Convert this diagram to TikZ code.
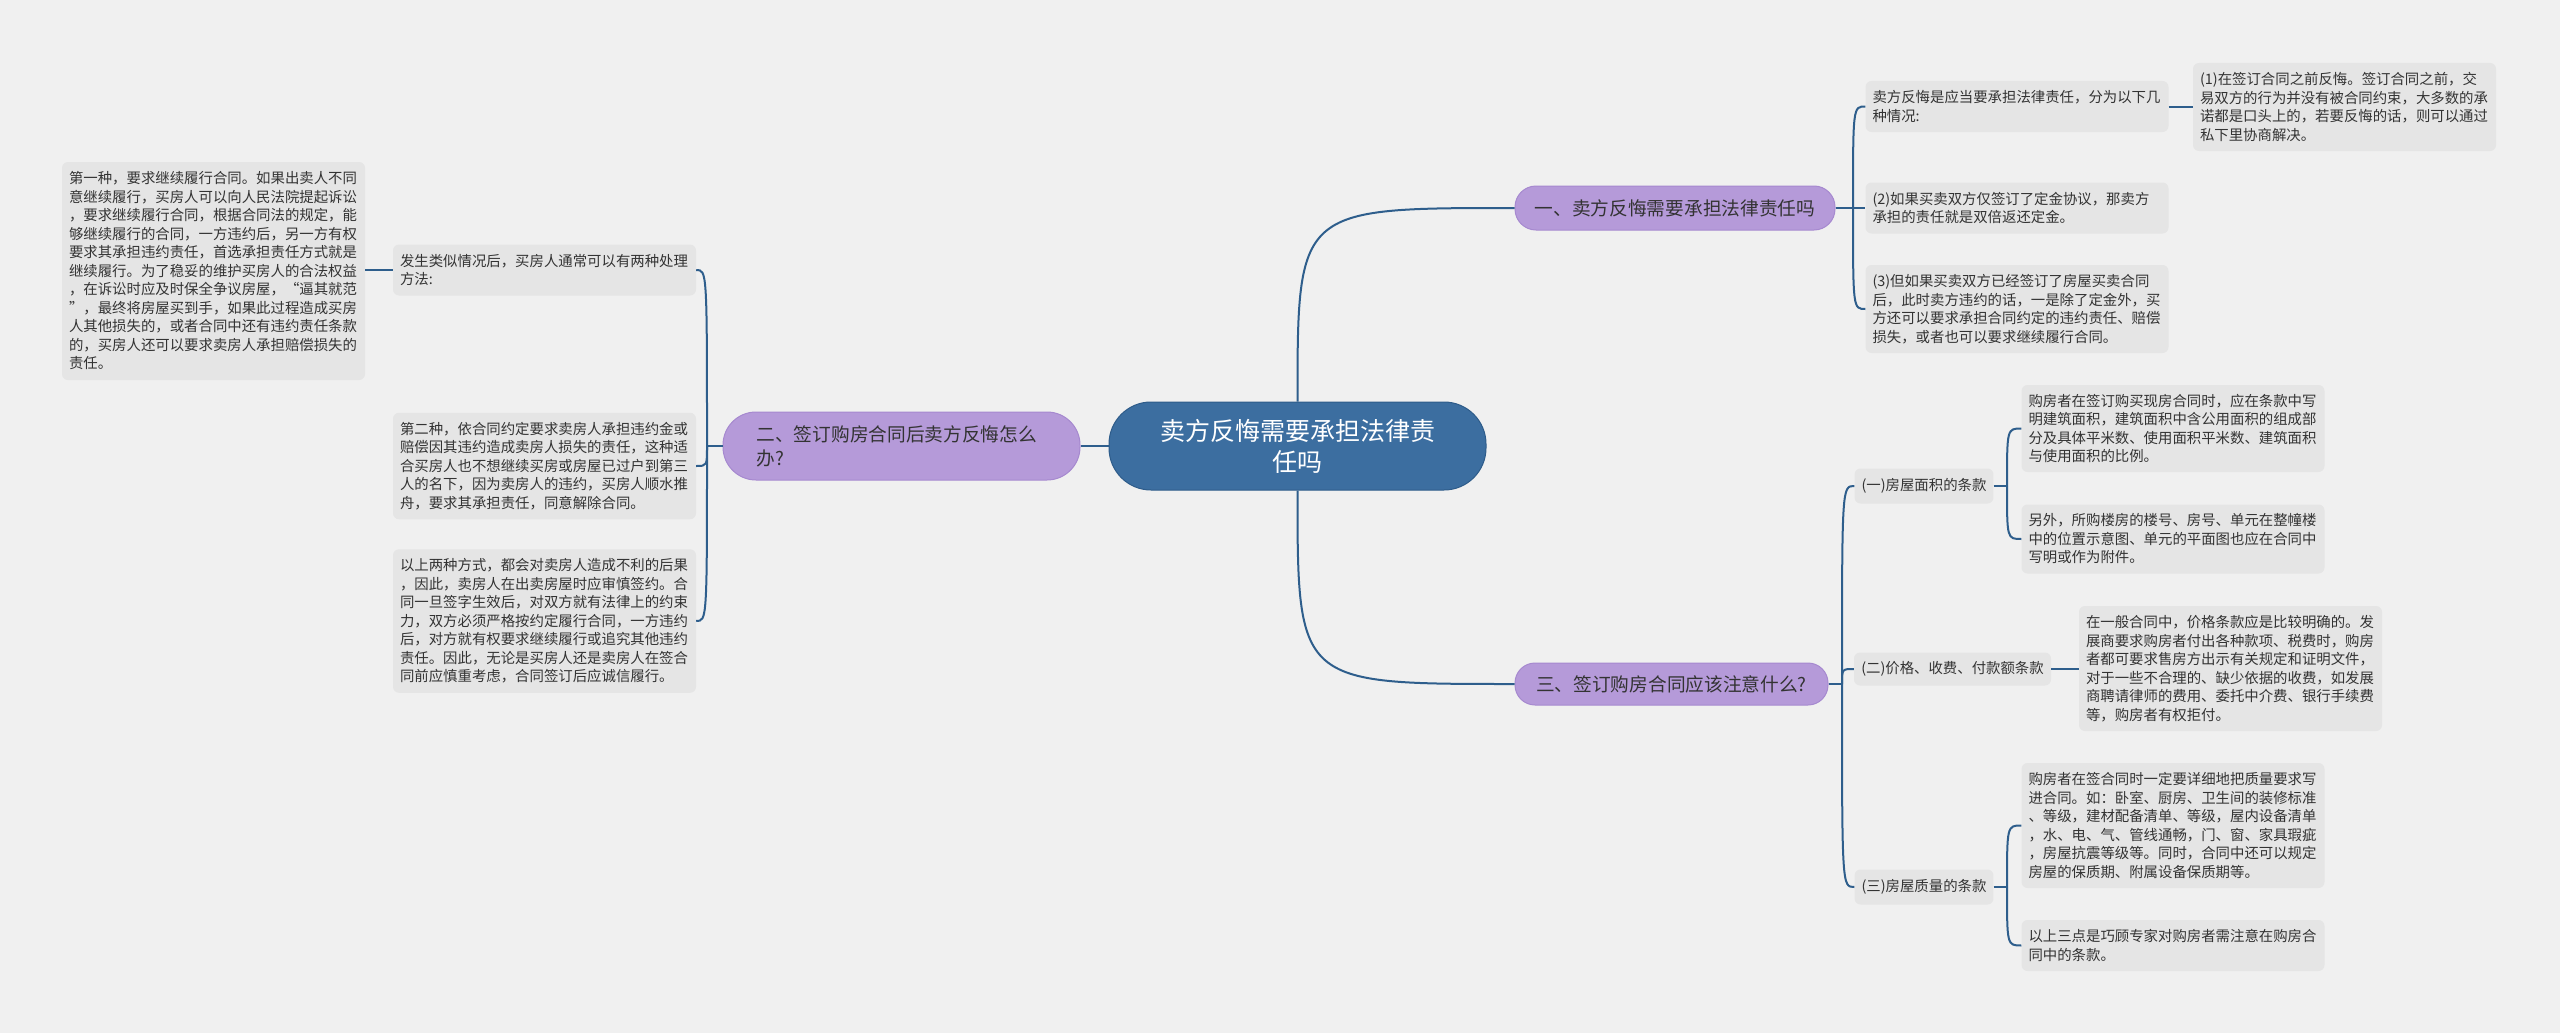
\documentclass[tikz,border=0pt]{standalone}
\usepackage{fontspec}
\setmainfont{Noto Sans CJK SC}
\definecolor{bgcol}{HTML}{F0F0F0}
\definecolor{leafgray}{HTML}{E5E5E5}
\definecolor{txtgray}{HTML}{333333}
\definecolor{purplefill}{HTML}{B59AD9}
\definecolor{purpleline}{HTML}{A689CF}
\definecolor{centerfill}{HTML}{3C6EA0}
\definecolor{centerline}{HTML}{2E5C8A}
\definecolor{linecol}{HTML}{2E5E8C}
\tikzset{
  leaf/.style={rectangle, rounded corners=6pt, fill=leafgray, text=txtgray,
    font=\fontsize{14.4}{18.5}\selectfont, align=left, inner xsep=7pt, inner ysep=0pt},
  wide/.style={text width=289pt},
  lvone/.style={rectangle, fill=purplefill, draw=purpleline, line width=1pt, text=txtgray,
    font=\fontsize{18.7}{24}\selectfont, inner ysep=0pt},
  conn/.style={draw=linecol, line width=2pt},
}
\begin{document}
\begin{tikzpicture}[x=1pt,y=-1pt]
\useasboundingbox (0,0) rectangle (2560,1033);
\fill[bgcol] (0,0) rectangle (2560,1033);

% center
\node[rectangle, rounded corners=42pt, fill=centerfill, draw=centerline, line width=1pt,
  text=white, font=\fontsize{25}{31}\selectfont, align=center,
  minimum width=377pt, minimum height=88pt, inner ysep=0pt] (c) at (1297.5,446)
  {卖方反悔需要承担法律责\\任吗};

% level one
\node[lvone, rounded corners=21pt, minimum width=320pt, minimum height=44pt] (A) at (1675,208)
  {一、卖方反悔需要承担法律责任吗};
\node[lvone, rounded corners=33pt, minimum width=357pt, minimum height=68pt, align=left, text width=290pt] (B) at (901.5,446)
  {二、签订购房合同后卖方反悔怎么\\办?};
\node[lvone, rounded corners=20pt, minimum width=313pt, minimum height=42pt] (C) at (1671.5,684)
  {三、签订购房合同应该注意什么?};

% A children
\node[leaf, wide, minimum height=51pt] (A1) at (2017,106.5)
  {卖方反悔是应当要承担法律责任，分为以下几\\种情况:};
\node[leaf, wide, minimum height=88pt] (A1a) at (2344.5,107)
  {(1)在签订合同之前反悔。签订合同之前，交\\易双方的行为并没有被合同约束，大多数的承\\诺都是口头上的，若要反悔的话，则可以通过\\私下里协商解决。};
\node[leaf, wide, minimum height=51pt] (A2) at (2017,208)
  {(2)如果买卖双方仅签订了定金协议，那卖方\\承担的责任就是双倍返还定金。};
\node[leaf, wide, minimum height=88pt] (A3) at (2017,309)
  {(3)但如果买卖双方已经签订了房屋买卖合同\\后，此时卖方违约的话，一是除了定金外，买\\方还可以要求承担合同约定的违约责任、赔偿\\损失，或者也可以要求继续履行合同。};

% B children
\node[leaf, wide, minimum height=51pt] (B1) at (544.5,270)
  {发生类似情况后，买房人通常可以有两种处理\\方法:};
\node[leaf, wide, minimum height=218pt] (B1a) at (213.5,271)
  {第一种，要求继续履行合同。如果出卖人不同\\意继续履行，买房人可以向人民法院提起诉讼\\，要求继续履行合同，根据合同法的规定，能\\够继续履行的合同，一方违约后，另一方有权\\要求其承担违约责任，首选承担责任方式就是\\继续履行。为了稳妥的维护买房人的合法权益\\，在诉讼时应及时保全争议房屋，“逼其就范\\”，最终将房屋买到手，如果此过程造成买房\\人其他损失的，或者合同中还有违约责任条款\\的，买房人还可以要求卖房人承担赔偿损失的\\责任。};
\node[leaf, wide, minimum height=106.5pt] (B2) at (544.5,466)
  {第二种，依合同约定要求卖房人承担违约金或\\赔偿因其违约造成卖房人损失的责任，这种适\\合买房人也不想继续买房或房屋已过户到第三\\人的名下，因为卖房人的违约，买房人顺水推\\舟，要求其承担责任，同意解除合同。};
\node[leaf, wide, minimum height=143.5pt] (B3) at (544.5,621)
  {以上两种方式，都会对卖房人造成不利的后果\\，因此，卖房人在出卖房屋时应审慎签约。合\\同一旦签字生效后，对双方就有法律上的约束\\力，双方必须严格按约定履行合同，一方违约\\后，对方就有权要求继续履行或追究其他违约\\责任。因此，无论是买房人还是卖房人在签合\\同前应慎重考虑，合同签订后应诚信履行。};

% C children
\node[leaf, minimum width=138pt, minimum height=35pt] (C1) at (1924,486) {(一)房屋面积的条款};
\node[leaf, minimum width=197pt, minimum height=33pt] (C2) at (1952.5,669) {(二)价格、收费、付款额条款};
\node[leaf, minimum width=138pt, minimum height=35pt] (C3) at (1924,887) {(三)房屋质量的条款};
\node[leaf, wide, minimum height=87pt] (C1a) at (2173,428.5)
  {购房者在签订购买现房合同时，应在条款中写\\明建筑面积，建筑面积中含公用面积的组成部\\分及具体平米数、使用面积平米数、建筑面积\\与使用面积的比例。};
\node[leaf, wide, minimum height=69pt] (C1b) at (2173,539)
  {另外，所购楼房的楼号、房号、单元在整幢楼\\中的位置示意图、单元的平面图也应在合同中\\写明或作为附件。};
\node[leaf, wide, minimum height=125pt] (C2a) at (2230.5,668.5)
  {在一般合同中，价格条款应是比较明确的。发\\展商要求购房者付出各种款项、税费时，购房\\者都可要求售房方出示有关规定和证明文件，\\对于一些不合理的、缺少依据的收费，如发展\\商聘请律师的费用、委托中介费、银行手续费\\等，购房者有权拒付。};
\node[leaf, wide, minimum height=125pt] (C3a) at (2173,825.5)
  {购房者在签合同时一定要详细地把质量要求写\\进合同。如：卧室、厨房、卫生间的装修标准\\、等级，建材配备清单、等级，屋内设备清单\\，水、电、气、管线通畅，门、窗、家具瑕疵\\，房屋抗震等级等。同时，合同中还可以规定\\房屋的保质期、附属设备保质期等。};
\node[leaf, wide, minimum height=51pt] (C3b) at (2173,945.5)
  {以上三点是巧顾专家对购房者需注意在购房合\\同中的条款。};

% junctions
\coordinate (jA) at (1853,208);
\coordinate (jB) at (707,446);
\coordinate (jC) at (1842,684);
\coordinate (jC1) at (2007,486);
\coordinate (jC3) at (2007,887);

% connectors from center
\draw[conn] (c.north) .. controls (c.north |- A.west) .. (A.west);
\draw[conn] (c.south) .. controls (c.south |- C.west) .. (C.west);
\draw[conn] (c.west) -- (B.east);

% A
\draw[conn] (A.east) -- (jA);
\draw[conn] (jA) .. controls (jA |- A1.west) .. (A1.west);
\draw[conn] (jA) -- (A2.west);
\draw[conn] (jA) .. controls (jA |- A3.west) .. (A3.west);
\draw[conn] (A1.east) -- (A1.east -| A1a.west);

% B
\draw[conn] (B.west) -- (jB);
\draw[conn] (jB) .. controls (jB |- B1.east) .. (B1.east);
\draw[conn] (jB) .. controls (jB |- B2.east) .. (B2.east);
\draw[conn] (jB) .. controls (jB |- B3.east) .. (B3.east);
\draw[conn] (B1.west) -- (B1.west -| B1a.east);

% C
\draw[conn] (C.east) -- (jC);
\draw[conn] (jC) .. controls (jC |- C1.west) .. (C1.west);
\draw[conn] (jC) .. controls (jC |- C2.west) .. (C2.west);
\draw[conn] (jC) .. controls (jC |- C3.west) .. (C3.west);
\draw[conn] (C1.east) -- (jC1);
\draw[conn] (jC1) .. controls (jC1 |- C1a.west) .. (C1a.west);
\draw[conn] (jC1) .. controls (jC1 |- C1b.west) .. (C1b.west);
\draw[conn] (C2.east) -- (C2.east -| C2a.west);
\draw[conn] (C3.east) -- (jC3);
\draw[conn] (jC3) .. controls (jC3 |- C3a.west) .. (C3a.west);
\draw[conn] (jC3) .. controls (jC3 |- C3b.west) .. (C3b.west);
\end{tikzpicture}
\end{document}
